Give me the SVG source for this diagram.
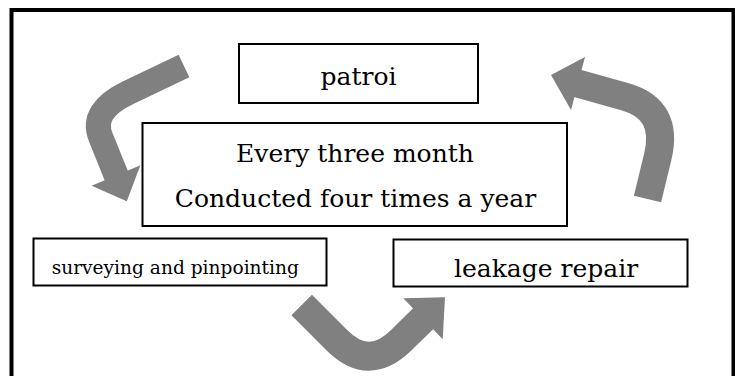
<svg xmlns="http://www.w3.org/2000/svg" width="735" height="376" viewBox="0 0 735 376">
<style>
.box{fill:#fff;stroke:#000;stroke-width:2}
.t{font-family:"DejaVu Serif","Liberation Serif",serif;fill:#000}
.band{fill:none;stroke:#808080;stroke-linecap:butt;stroke-linejoin:round}
.head{fill:#808080;stroke:none}
</style>
<rect x="11.5" y="10" width="722" height="420" fill="#fff" stroke="#000" stroke-width="4"/>
<g id="connectors">
  <g id="arrow-patrol-to-survey">
    <path class="band" stroke-width="25" d="M184,66 L128,92.7 Q90.2,110.8 100.6,136.8 L117,177.5"/>
    <polygon class="head" points="91.6,185.7 140.4,165.3 126.8,201.3"/>
  </g>
  <g id="arrow-survey-to-repair">
    <path class="band" stroke-width="29" d="M301.7,305 L336.9,340.2 Q368.7,372 400.9,340.5 L424.5,317.4"/>
    <polygon class="head" points="403.3,298.3 442.7,339.3 445,297.3"/>
  </g>
  <g id="arrow-repair-to-patrol">
    <path class="band" stroke-width="28" d="M647.5,199 L657.7,157 Q669.4,109.2 625,96.7 L576,83"/>
    <polygon class="head" points="585,57 571,110 551,75"/>
  </g>
</g>
<g id="patrol">
  <rect class="box" x="239" y="44" width="239" height="59"/>
  <text class="t" x="358.5" y="85" font-size="25" text-anchor="middle">patroi</text>
</g>
<g id="schedule">
  <rect class="box" x="142.5" y="123" width="424.5" height="103"/>
  <text class="t" x="355" y="161.5" font-size="25" text-anchor="middle">Every three month</text>
  <text class="t" x="355.5" y="206.5" font-size="25" text-anchor="middle">Conducted four times a year</text>
</g>
<g id="survey">
  <rect class="box" x="33.5" y="238.5" width="293" height="47"/>
  <text class="t" x="51.7" y="273.5" font-size="18.6">surveying and pinpointing</text>
</g>
<g id="repair">
  <rect class="box" x="393.5" y="239.5" width="294" height="47"/>
  <text class="t" x="454" y="277" font-size="25">leakage repair</text>
</g>
</svg>
